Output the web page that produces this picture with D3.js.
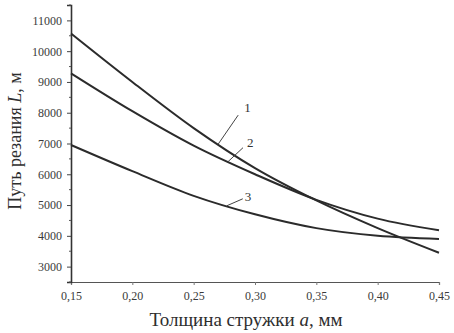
<!DOCTYPE html>
<html>
<head>
<meta charset="utf-8">
<script src="https://cdn.jsdelivr.net/npm/d3@7"></script>
<style>
  body { margin: 0; background: #fff; }
  svg { display: block; font-family: "Liberation Serif", "DejaVu Serif", serif; }
</style>
</head>
<body>
<svg id="chart"></svg>
<script>
// толщина стружки a, мм
var thickness = [0.15, 0.20, 0.25, 0.30, 0.35, 0.40, 0.45];
// путь резания L, м — кривые 1, 2, 3
var path1 = [10575, 9000, 7500, 6200, 5150, 4250, 3450];
var path2 = [9280, 8050, 6930, 6000, 5170, 4560, 4180];
var path3 = [6950, 6100, 5300, 4700, 4250, 4000, 3900];
var curveNames = ["1", "2", "3"];
// where each numbered leader touches its curve (a, mm)
var labelAt = [0.270, 0.278, 0.277];
var yTicks = [3000, 4000, 5000, 6000, 7000, 8000, 9000, 10000, 11000];
var yMinor = [2500, 3500, 4500, 5500, 6500, 7500, 8500, 9500, 10500, 11500];

var W = 454, H = 333;
var margin = {top: 5, right: 15, bottom: 51, left: 71},
    width = W - margin.left - margin.right,
    height = H - margin.top - margin.bottom;

var svg = d3.select("#chart")
    .attr("width", W)
    .attr("height", H);

var g = svg.append("g")
    .attr("transform", "translate(" + margin.left + "," + margin.top + ")");

var x = d3.scaleLinear()
    .domain([0.15, 0.45])
    .range([0, 368]);

var y = d3.scaleLinear()
    .domain([2500, 11500])
    .range([height, 0]);

var comma = function(d) { return d3.format(".2f")(d).replace(".", ","); };

// x axis
var xAxis = g.append("g")
    .attr("transform", "translate(0," + height + ")")
    .call(d3.axisBottom(x).tickValues(thickness).tickFormat(comma).tickSize(3).tickPadding(6));
xAxis.select(".domain").attr("stroke", "#555").attr("stroke-width", 1.2);
xAxis.selectAll(".tick line").attr("stroke", "#777");
xAxis.selectAll("text").attr("font-size", 12).attr("fill", "#3a3a3a")
    .attr("font-family", "Liberation Serif");

// y axis
var yAxis = g.append("g")
    .call(d3.axisLeft(y).tickValues(yTicks).tickFormat(d3.format("d")).tickSize(4).tickPadding(5));
yAxis.select(".domain").attr("stroke", "#333").attr("stroke-width", 1.6);
yAxis.selectAll(".tick line").attr("stroke", "#444");
yAxis.selectAll("text").attr("font-size", 12).attr("fill", "#3a3a3a")
    .attr("font-family", "Liberation Serif");

g.append("g")
  .selectAll("line")
  .data(yMinor)
  .enter().append("line")
    .attr("x1", -2).attr("x2", 0)
    .attr("y1", function(d) { return y(d); })
    .attr("y2", function(d) { return y(d); })
    .attr("stroke", "#555");

// curves
var series = [path1, path2, path3];
var line = d3.line()
    .x(function(d, i) { return x(thickness[i]); })
    .y(function(d) { return y(d); })
    .curve(d3.curveMonotoneX);

g.selectAll(".curve")
  .data(series)
  .enter().append("path")
    .attr("class", "curve")
    .attr("d", line)
    .attr("fill", "none")
    .attr("stroke", "#2b2b2b")
    .attr("stroke-width", 2);

// numbered leaders
function valueAt(s, a) {
  var i = d3.bisectRight(thickness, a) - 1;
  var t = (a - thickness[i]) / (thickness[i + 1] - thickness[i]);
  return s[i] + t * (s[i + 1] - s[i]);
}
var leaderDx = [20, 15, 16], leaderDy = [-29, -14, -7];
var textDx = [6, 4, 2], textDy = [-3, -1, 2];

series.forEach(function(s, k) {
  var px = x(labelAt[k]), py = y(valueAt(s, labelAt[k]));
  g.append("line")
    .attr("x1", px).attr("y1", py)
    .attr("x2", px + leaderDx[k]).attr("y2", py + leaderDy[k])
    .attr("stroke", "#444").attr("stroke-width", 1);
  g.append("text")
    .attr("x", px + leaderDx[k] + textDx[k])
    .attr("y", py + leaderDy[k] + textDy[k])
    .attr("font-size", 13)
    .attr("fill", "#333")
    .text(curveNames[k]);
});

// axis titles
var xt = svg.append("text")
    .attr("x", 246)
    .attr("y", 326)
    .attr("text-anchor", "middle")
    .attr("font-size", 19)
    .attr("fill", "#2e2e2e");
xt.append("tspan").text("Толщина стружки ");
xt.append("tspan").attr("font-style", "italic").text("a");
xt.append("tspan").text(", мм");

var yt = svg.append("text")
    .attr("transform", "translate(21,141) rotate(-90)")
    .attr("text-anchor", "middle")
    .attr("font-size", 18)
    .attr("fill", "#2e2e2e");
yt.append("tspan").text("Путь резания ");
yt.append("tspan").attr("font-style", "italic").text("L");
yt.append("tspan").text(", м");
</script>
</body>
</html>
